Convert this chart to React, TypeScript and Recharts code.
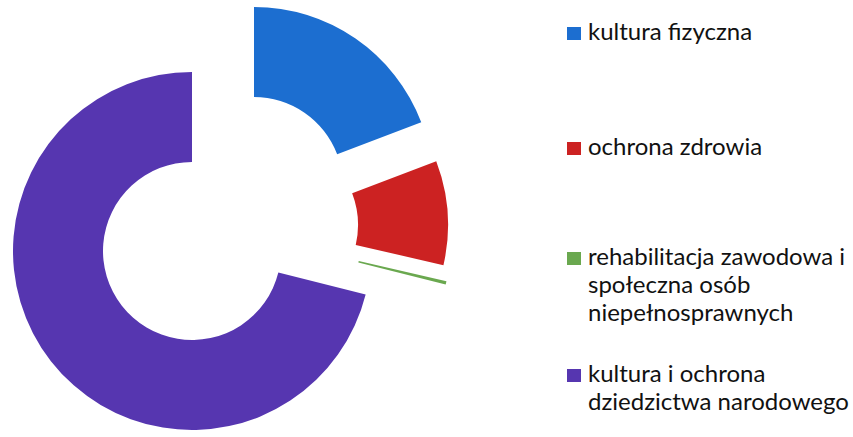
import { PieChart, Pie, Cell } from 'recharts';

// share of spending, percent
const categories = [
  'kultura fizyczna',
  'ochrona zdrowia',
  'rehabilitacja zawodowa i społeczna osób niepełnosprawnych',
  'kultura i ochrona dziedzictwa narodowego',
];
const shares = [19.2, 9.4, 0.3, 71.1];

const legendLines = [
  ['kultura fizyczna'],
  ['ochrona zdrowia'],
  ['rehabilitacja zawodowa i', 'społeczna osób', 'niepełnosprawnych'],
  ['kultura i ochrona', 'dziedzictwa narodowego'],
];

const COLORS = ['#1c6ed0', '#cc2222', '#6aa84f', '#5636b0'];
// exploded slice centres (pixel position of each slice's own centre)
const CENTERS = [
  { cx: 254, cy: 186 },
  { cx: 269, cy: 225 },
  { cx: 272, cy: 241 },
  { cx: 192, cy: 251 },
];
const LEGEND_TOP = [17, 132, 242, 359];

const data = categories.map((name, i) => ({ name, value: shares[i] }));

export default function App() {
  return (
    <div style={{ position: 'absolute', left: 0, top: 0, width: 853, height: 437, background: '#fff' }}>
      <PieChart width={853} height={437} margin={{ top: 0, right: 0, bottom: 0, left: 0 }}>
        {CENTERS.map((c, k) => (
          <Pie
            key={k}
            data={data}
            dataKey="value"
            cx={c.cx}
            cy={c.cy}
            innerRadius={89}
            outerRadius={179}
            startAngle={90}
            endAngle={-270}
            stroke="none"
            isAnimationActive={false}
          >
            {data.map((_, i) => (
              <Cell key={i} fill={i === k ? COLORS[i] : 'none'} />
            ))}
          </Pie>
        ))}
      </PieChart>
      {legendLines.map((lines, i) => (
        <div
          key={i}
          style={{
            position: 'absolute',
            left: 567,
            top: LEGEND_TOP[i],
            display: 'flex',
            fontFamily: 'Lato, sans-serif',
            fontSize: 24,
            lineHeight: '28px',
            color: '#111',
          }}
        >
          <span
            style={{
              width: 14,
              height: 13,
              background: COLORS[i],
              marginTop: 10,
              marginRight: 7,
              flexShrink: 0,
            }}
          />
          <div>
            {lines.map((t) => (
              <div key={t}>{t}</div>
            ))}
          </div>
        </div>
      ))}
    </div>
  );
}
